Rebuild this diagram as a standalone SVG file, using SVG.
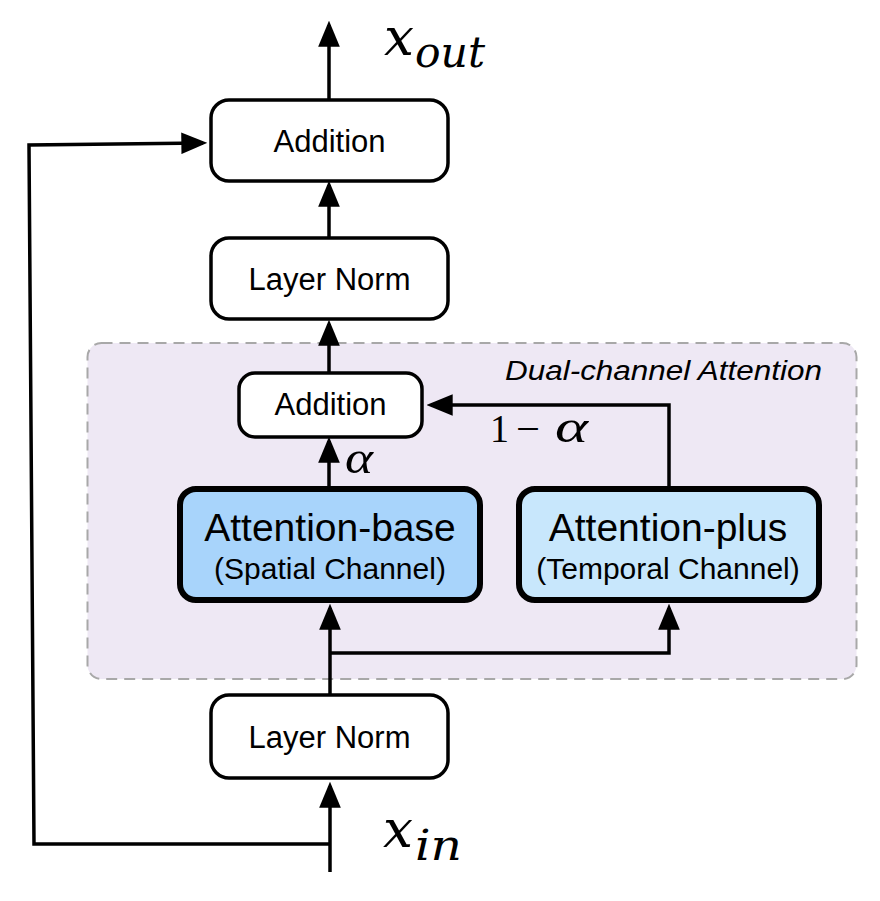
<svg xmlns="http://www.w3.org/2000/svg" width="880" height="901" viewBox="0 0 880 901">
  <defs>
    <marker id="arr" markerUnits="userSpaceOnUse" markerWidth="26" markerHeight="22" viewBox="0 0 24 20" refX="20" refY="10" orient="auto">
      <path d="M0,0 L24,10 L0,20 z" fill="#000"/>
    </marker>
    <style>
      .box { fill: #fff; stroke: #000; stroke-width: 3.5; }
      .att { stroke: #000; stroke-width: 6; }
      .lbl { font-family: "Liberation Sans", Arial, Helvetica, sans-serif; fill: #000; text-anchor: middle; }
      .math { font-family: "DejaVu Serif", "Liberation Serif", serif; font-style: italic; fill: #000; }
      .greek { font-family: "Liberation Serif", "Times New Roman", serif; font-style: italic; fill: #000; }
      .mathr { font-family: "Liberation Serif", "Times New Roman", serif; fill: #000; }
      .conn { fill: none; stroke: #000; stroke-width: 3.5; stroke-linejoin: miter; marker-end: url(#arr); }
    </style>
  </defs>
  <rect width="880" height="901" fill="#fff"/>

  <g id="dual-channel-region">
    <rect x="87.5" y="343" width="769" height="336" rx="14" fill="#EEE8F4" stroke="#A8A8A8" stroke-width="2" stroke-dasharray="11 7"/>
    <text x="822" y="380" font-family="'Liberation Sans', Arial, sans-serif" font-style="italic" font-size="27" text-anchor="end" textLength="317" lengthAdjust="spacingAndGlyphs">Dual-channel Attention</text>
  </g>

  <g id="connectors">
    <line class="conn" x1="329" y1="100" x2="329" y2="25"/>
    <line class="conn" x1="329" y1="238" x2="329" y2="185"/>
    <line class="conn" x1="329" y1="373" x2="329" y2="324"/>
    <line class="conn" x1="329" y1="489" x2="329" y2="441"/>
    <polyline class="conn" points="669,489 669,405 431,405"/>
    <line class="conn" x1="330" y1="695" x2="330" y2="608"/>
    <polyline class="conn" points="330,653 669,653 669,608"/>
    <line class="conn" x1="330" y1="872" x2="330" y2="786"/>
    <polyline class="conn" points="330,844 34,844 29,145 203,143"/>
  </g>

  <g id="addition-top">
    <rect class="box" x="211" y="100" width="237" height="81" rx="18"/>
    <text class="lbl" x="329.5" y="152" font-size="31">Addition</text>
  </g>

  <g id="layernorm-top">
    <rect class="box" x="211" y="238" width="237" height="81" rx="18"/>
    <text class="lbl" x="329.5" y="290" font-size="31">Layer Norm</text>
  </g>

  <g id="addition-inner">
    <rect class="box" x="239" y="373" width="183" height="64" rx="16"/>
    <text class="lbl" x="330.5" y="415" font-size="31">Addition</text>
  </g>

  <g id="attention-base">
    <rect class="att" x="180" y="489" width="300" height="111" rx="16" fill="#A8D4FB"/>
    <text class="lbl" x="330" y="541" font-size="39">Attention-base</text>
    <text class="lbl" x="330" y="579" font-size="30">(Spatial Channel)</text>
  </g>

  <g id="attention-plus">
    <rect class="att" x="519" y="489" width="300" height="111" rx="16" fill="#C8E7FC"/>
    <text class="lbl" x="668" y="541" font-size="39">Attention-plus</text>
    <text class="lbl" x="668" y="579" font-size="30">(Temporal Channel)</text>
  </g>

  <g id="layernorm-bottom">
    <rect class="box" x="211" y="695" width="237" height="83" rx="18"/>
    <text class="lbl" x="329.5" y="748" font-size="31">Layer Norm</text>
  </g>

  <g id="labels">
    <text class="math" x="384" y="55" font-size="52" textLength="30" lengthAdjust="spacingAndGlyphs">x</text>
    <text class="math" x="415" y="67" font-size="42" textLength="70" lengthAdjust="spacingAndGlyphs">out</text>
    <text class="math" x="383" y="847" font-size="52" textLength="30" lengthAdjust="spacingAndGlyphs">x</text>
    <text class="math" x="415" y="860" font-size="42" textLength="47" lengthAdjust="spacingAndGlyphs">in</text>
    <text class="greek" x="345" y="473" font-size="46" textLength="28" lengthAdjust="spacingAndGlyphs">α</text>
    <text class="mathr" x="490" y="442" font-size="40" textLength="19" lengthAdjust="spacingAndGlyphs">1</text>
    <text class="mathr" x="516" y="442" font-size="40" textLength="24" lengthAdjust="spacingAndGlyphs">−</text>
    <text class="greek" x="555" y="442" font-size="46" textLength="33" lengthAdjust="spacingAndGlyphs">α</text>
  </g>
</svg>
